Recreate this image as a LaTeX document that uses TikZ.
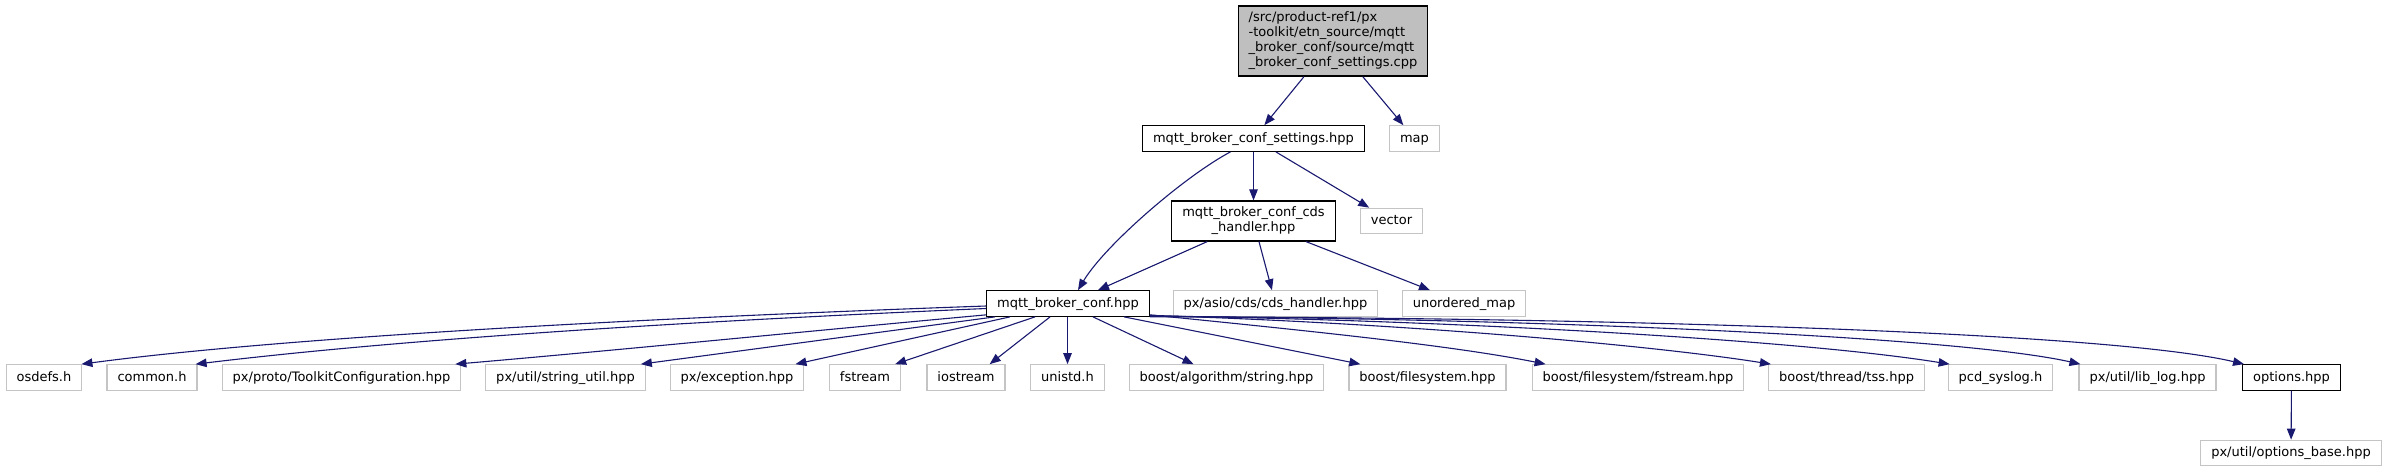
\documentclass[tikz,border=0pt]{standalone}
\usepackage{fontspec}
\setmainfont{DejaVu Sans}
\usetikzlibrary{arrows.meta}
\definecolor{edgec}{HTML}{191970}
\definecolor{fillg}{HTML}{BFBFBF}
\definecolor{bordg}{HTML}{C4C4C4}
\begin{document}
\begin{tikzpicture}[x=1pt,y=1pt,
  base/.style={draw=black, line width=1.2pt, fill=white, font=\fontsize{13}{15}\selectfont, inner xsep=10.5pt, inner ysep=0pt},
  one/.style={base, minimum height=25.5pt, text height=10pt, text depth=3pt},
  ext/.style={one, draw=bordg},
  conn/.style={draw=edgec, line width=1.1pt, -{Triangle[length=11pt,width=8.5pt]}}
]
\useasboundingbox (0,0) rectangle (2387,-472);

% nodes
\node[base, fill=fillg, align=left, minimum height=70pt, inner ysep=4pt] (top) at (1333,-41)
  {/src/product-ref1/px\\-toolkit/etn\_source/mqtt\\\_broker\_conf/source/mqtt\\\_broker\_conf\_settings.cpp};
\node[one] (settings) at (1253.5,-138.5) {mqtt\_broker\_conf\_settings.hpp};
\node[ext] (map) at (1414.5,-138.5) {map};
\node[base, align=center, minimum height=40pt] (cds) at (1253.5,-221) {mqtt\_broker\_conf\_cds\\\_handler.hpp};
\node[ext] (vector) at (1391.5,-221) {vector};
\node[one] (conf) at (1068,-303.5) {mqtt\_broker\_conf.hpp};
\node[ext] (cdsh) at (1275.5,-303.5) {px/asio/cds/cds\_handler.hpp};
\node[ext] (umap) at (1464,-303.5) {unordered\_map};

\node[ext] (osdefs) at (44,-377.5) {osdefs.h};
\node[ext] (common) at (152,-377.5) {common.h};
\node[ext] (toolkit) at (341.5,-377.5) {px/proto/ToolkitConfiguration.hpp};
\node[ext] (strutil) at (565.5,-377.5) {px/util/string\_util.hpp};
\node[ext] (exception) at (737,-377.5) {px/exception.hpp};
\node[ext] (fstream) at (865,-377.5) {fstream};
\node[ext] (iostream) at (966,-377.5) {iostream};
\node[ext] (unistd) at (1067.5,-377.5) {unistd.h};
\node[ext] (algo) at (1226.5,-377.5) {boost/algorithm/string.hpp};
\node[ext] (fs) at (1427.5,-377.5) {boost/filesystem.hpp};
\node[ext] (fsf) at (1638,-377.5) {boost/filesystem/fstream.hpp};
\node[ext] (tss) at (1846.5,-377.5) {boost/thread/tss.hpp};
\node[ext] (pcd) at (2000.5,-377.5) {pcd\_syslog.h};
\node[ext] (liblog) at (2147.5,-377.5) {px/util/lib\_log.hpp};
\node[one] (options) at (2291.5,-377.5) {options.hpp};
\node[ext] (optbase) at (2291,-453) {px/util/options\_base.hpp};

% upper edges
\draw[conn] (top) -- (settings);
\draw[conn] (top) -- (map);
\draw[conn] ([xshift=-23pt]settings.south) .. controls (1185,-176) and (1105,-245) .. ([xshift=10pt]conf.north);
\draw[conn] (settings) -- (cds);
\draw[conn] (settings) -- (vector);
\draw[conn] (cds) -- (conf);
\draw[conn] (cds) -- (cdsh);
\draw[conn] (cds) -- (umap);

% lower edges, left side
\draw[conn] ([yshift=-2.5pt]conf.west) .. controls (700,-316) and (300,-335) .. ([xshift=-1pt]osdefs.north east);
\draw[conn] ([yshift=-5pt]conf.west) .. controls (720,-320) and (420,-337) .. ([xshift=-2pt]common.north east);
\draw[conn] ([yshift=2pt]conf.south west) .. controls (820,-330) and (620,-350) .. ([xshift=-6pt]toolkit.north east);
\draw[conn] ([xshift=9pt]conf.south west) -- ([xshift=-5pt]strutil.north east);
\draw[conn] ([xshift=24pt]conf.south west) -- ([xshift=-9pt]exception.north east);
\draw[conn] ([xshift=49pt]conf.south west) -- ([xshift=-6pt]fstream.north east);
\draw[conn] ([xshift=64pt]conf.south west) -- ([xshift=-16pt]iostream.north east);
\draw[conn] (conf.south -| unistd.north) -- (unistd.north);
% lower edges, right side
\draw[conn] ([xshift=-57pt]conf.south east) -- ([xshift=65pt]algo.north west);
\draw[conn] ([xshift=-26pt]conf.south east) -- ([xshift=12pt]fs.north west);
\draw[conn] ([yshift=2pt]conf.south east) .. controls (1300,-330) and (1450,-345) .. ([xshift=14pt]fsf.north west);
\draw[conn] ([yshift=1.5pt]conf.south east) .. controls (1400,-323) and (1650,-345) .. ([xshift=3pt]tss.north west);
\draw[conn] ([yshift=1pt]conf.south east) .. controls (1450,-320) and (1800,-340) .. ([xshift=2pt]pcd.north west);
\draw[conn] ([yshift=0.5pt]conf.south east) .. controls (1500,-318) and (1950,-335) .. ([xshift=2pt]liblog.north west);
\draw[conn] (conf.south east) .. controls (1550,-317) and (2100,-330) .. ([xshift=2pt]options.north west);
\draw[conn] (options) -- (optbase);
\end{tikzpicture}
\end{document}
